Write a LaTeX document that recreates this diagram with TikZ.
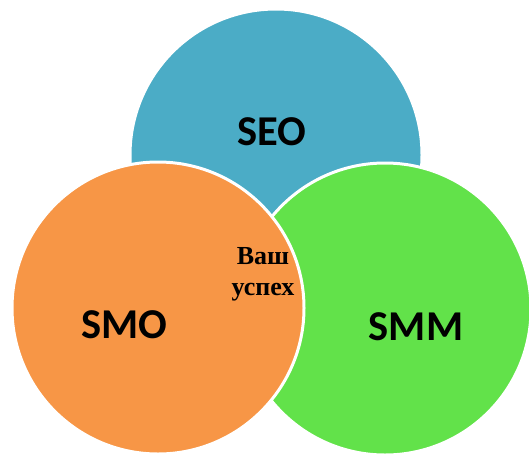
\documentclass[tikz,border=0pt]{standalone}
\usepackage{fontspec}
\setmainfont{Liberation Serif}
\newfontfamily\labfont{Carlito}
\definecolor{cblue}{HTML}{4BACC6}
\definecolor{corange}{HTML}{F79646}
\definecolor{cgreen}{HTML}{62E24A}
\tikzset{
  blob/.style={circle, minimum size=292pt, inner sep=0pt, draw=white, line width=3pt},
  biglabel/.style={font=\labfont\bfseries\fontsize{42.5}{46}\selectfont, text=black, inner sep=0pt},
  midlabel/.style={font=\bfseries\fontsize{26}{31}\selectfont, align=center, text=black, inner sep=0pt}
}
\begin{document}
\begin{tikzpicture}[x=1pt,y=-1pt]
\useasboundingbox (0,0) rectangle (529,455);
\clip (0,0) rectangle (529,455);
\node[blob, fill=cblue] (seoc) at (276,155) {};
\node[blob, fill=cgreen] (smmc) at (385,309) {};
\node[blob, fill=corange] (smoc) at (158,308) {};
\node[biglabel] (seo) at (272,131.5) {SEO};
\node[biglabel] (smo) at (124.5,324.5) {SMO};
\node[biglabel] (smm) at (416,327) {SMM};
\node[midlabel] (mid) at (263,274) {Ваш\\успех};
\end{tikzpicture}
\end{document}
